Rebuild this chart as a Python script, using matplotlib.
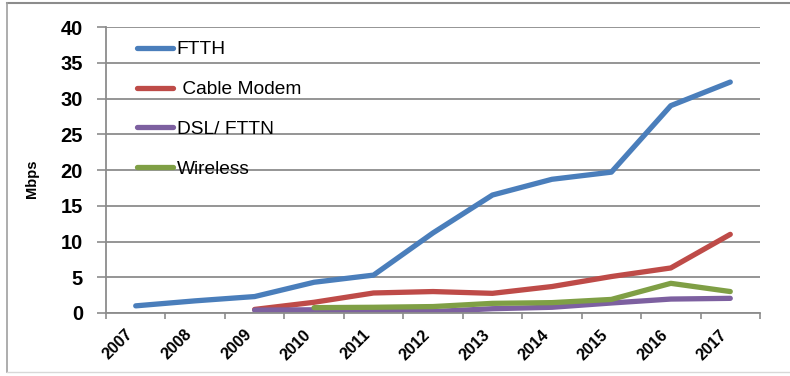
import numpy as np
import matplotlib.pyplot as plt
from matplotlib.lines import Line2D

years = ['2007', '2008', '2009', '2010', '2011', '2012', '2013', '2014', '2015', '2016', '2017']
ftth = [1.0, 1.7, 2.3, 4.3, 5.3, 11.2, 16.5, 18.7, 19.7, 29.0, 32.3]
cable = [np.nan, np.nan, 0.5, 1.5, 2.8, 3.0, 2.75, 3.7, 5.1, 6.3, 11.0]
dsl = [np.nan, np.nan, 0.4, 0.45, 0.3, 0.2, 0.6, 0.8, 1.4, 1.95, 2.05]
wireless = [np.nan, np.nan, np.nan, 0.75, 0.8, 0.9, 1.35, 1.45, 1.9, 4.15, 3.0]

series = [
    ('FTTH', ftth, '#4a7ebb'),
    (' Cable Modem', cable, '#be4b48'),
    ('DSL/ FTTN', dsl, '#7d60a0'),
    ('Wireless', wireless, '#7f9f45'),
]

plt.rcParams['font.family'] = ['Liberation Sans', 'DejaVu Sans']

fig = plt.figure(figsize=(7.9, 3.76), dpi=100)
W, H = 790, 376
ax = fig.add_axes([106 / W, 63 / H, 654 / W, 286 / H])

x = np.arange(len(years))
for name, vals, col in series:
    ax.plot(x, vals, color=col, lw=3.8, solid_capstyle='round', label=name)

ax.set_xlim(-0.5, len(years) - 0.5)
ax.set_ylim(0, 40)
ax.set_yticks(np.arange(0, 41, 5))
ax.grid(axis='y', color='#8c8c8c', lw=1.3)
ax.set_axisbelow(True)

ax.set_xticks(x)
ax.set_xticklabels(years, rotation=45, ha='right', fontsize=11.5, fontweight='bold')
ax.set_xticks(np.arange(-0.5, len(years)), minor=True)
ax.tick_params(axis='x', which='major', length=0, pad=10)
ax.tick_params(axis='x', which='minor', length=4, color='#8c8c8c', width=1.2)
ax.tick_params(axis='y', length=6.5, color='#8c8c8c', width=1.2, pad=10, labelsize=14.5)
for lab in ax.get_yticklabels():
    lab.set_fontweight('bold')

for s in ['top', 'right']:
    ax.spines[s].set_visible(False)
for s in ['left', 'bottom']:
    ax.spines[s].set_color('#8c8c8c')
    ax.spines[s].set_linewidth(1.3)

ax.set_ylabel('Mbps', fontsize=10.5, fontweight='bold')
ax.yaxis.set_label_coords(-0.102, 0.47)

ax.legend(loc='upper left', bbox_to_anchor=(0.035, 0.978), frameon=False,
          fontsize=13.8, handlelength=1.9, handletextpad=0.2, labelspacing=1.17,
          borderaxespad=0)

# outer frame
fig.add_artist(Line2D([7 / W, 1], [1 - 3 / H, 1 - 3 / H], color='#8c8c8c', lw=1.5))
fig.add_artist(Line2D([7 / W, 7 / W], [1 - 3 / H, 1 - 372 / H], color='#a0a0a0', lw=1.2))
fig.add_artist(Line2D([7 / W, 1], [1 - 372 / H, 1 - 372 / H], color='#d8d8d8', lw=1.0))

fig.savefig('out.png', dpi=100)
